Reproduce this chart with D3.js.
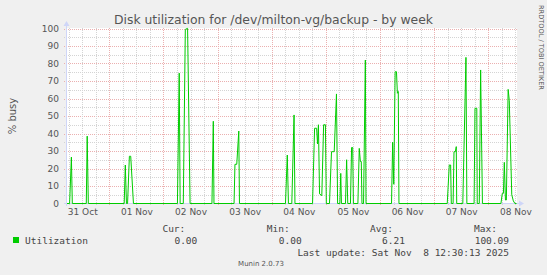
<!DOCTYPE html>
<meta charset="utf-8">
<style>
	body { margin: 0; background: #f0f0f0; }
	svg { display: block; }
	text { font-family: "DejaVu Sans", sans-serif; fill: #555; }
	.mono { font-family: "DejaVu Sans Mono", monospace; font-size: 9.5px; fill: #444; }
	.minor { stroke: #d4d4d4; stroke-dasharray: 1,1; }
	.major { stroke: #ebb0b0; stroke-dasharray: 1,1; }
</style>
<body>
<div id="chart"></div>
<script src="https://d3js.org/d3.v7.min.js"></script>
<script>
	// hours since 31 Oct 2025 00:00 and % busy
	const hours = [5.25, 6.4, 7.2, 7.6, 13.8, 14.2, 14.7,
		30.6, 31.1, 31.6, 32.1, 32.9, 33.5, 34.7,
		54.2, 55.0, 55.4, 56.8, 57.7, 58.7, 59.8,
		69.5, 70.1, 70.4,
		79.3, 79.7, 80.5, 81.4, 81.7,
		102.1, 102.9, 103.4, 104.9, 105.9, 106.3,
		114.1, 115.0, 115.9, 116.3, 116.7, 117.2, 118.2, 119.0, 119.8, 120.2,
		121.6, 122.5, 123.7, 124.7, 125.2,
		126.2, 126.6, 126.9,
		128.7, 129.2, 129.7,
		130.9, 131.4, 131.9, 132.2,
		134.2, 134.8, 135.3, 135.7, 136.0,
		136.7, 137.5, 137.8,
		149.1, 149.6, 150.1, 150.7, 151.3, 151.7, 152.1, 152.4,
		173.8, 174.7, 175.3, 175.6,
		176.4, 176.8, 177.4, 177.8, 178.0,
		180.7, 181.2, 182.1, 182.5,
		185.7, 186.1, 186.9, 187.1,
		188.0, 188.6, 189.4,
		197.6, 198.2, 198.7, 199.1, 199.6, 200.0, 200.8, 201.3, 202.4, 203.1, 203.8, 204.5];
	const busy = [0, 0, 26.5, 0, 0, 38.5, 0,
		0, 22, 0, 0, 27, 27, 0,
		0, 74.5, 0, 0, 99.5, 100.09, 0,
		0, 47, 0,
		0, 22.4, 22.4, 41.4, 0,
		0, 27.7, 0, 0, 50.6, 0,
		0, 43, 43, 34, 45, 5.5, 4.5, 45, 45, 0,
		0, 29.6, 29.6, 62.6, 0,
		0, 17.2, 0,
		0, 25, 0,
		0, 32, 32, 0,
		0, 31.5, 24, 24, 0,
		0, 82, 0,
		0, 35, 11, 75.3, 75.3, 63, 64, 0,
		0, 22, 22, 0,
		0, 29.6, 29.6, 32.5, 0,
		0, 29.6, 83.5, 0,
		0, 54.4, 54.4, 0,
		0, 76.3, 0,
		0, 5.8, 5.8, 23.5, 2, 2, 65.2, 59, 5, 1.5, 0, 0];

	const yTicks = [0, 10, 20, 30, 40, 50, 60, 70, 80, 90, 100];
	const legendHeads = ["Cur:", "Min:", "Avg:", "Max:"];
	const legendVals = ["0.00", "0.00", "6.21", "100.09"];
	const seriesName = "Utilization";
	const title = "Disk utilization for /dev/milton-vg/backup - by week";
	const lastUpdate = "Last update: Sat Nov  8 12:30:13 2025";

	const width = 547, height = 275;
	const BASE = Date.UTC(2025, 9, 31);
	const toDate = h => new Date(BASE + h * 3600e3);
	const data = hours.map((h, i) => ({ t: toDate(h), v: busy[i] }));

	const x = d3.scaleUtc().domain([toDate(5.25), toDate(204.5)]).range([67, 516.5]);
	const y = d3.scaleLinear().domain([0, 100]).range([203.5, 28.5]);
	const px = v => Math.round(v) + 0.5;

	const svg = d3.select("#chart").append("svg")
		.attr("width", width).attr("height", height);

	svg.append("rect").attr("width", width).attr("height", height).attr("fill", "#f0f0f0");
	svg.append("rect").attr("x", 67).attr("y", 28).attr("width", 450).attr("height", 176).attr("fill", "#fff");

	const [t0, t1] = x.domain();
	const minorT = d3.utcHour.every(6).range(t0, t1).filter(d => d.getUTCHours() !== 0);
	const majorT = d3.utcDay.range(t0, t1);
	const noonT = d3.utcDay.range(d3.utcDay.floor(t0), t1).map(d => d3.utcHour.offset(d, 12))
		.filter(d => d >= t0 && d <= t1);

	const grid = svg.append("g").attr("shape-rendering", "crispEdges");
	// horizontal grid: minor every 5, major every 10
	grid.selectAll(".hmin").data(d3.range(5, 100, 10)).join("line")
		.attr("class", "minor").attr("x1", 64).attr("x2", 518)
		.attr("y1", d => px(y(d))).attr("y2", d => px(y(d)));
	grid.selectAll(".hmaj").data(yTicks.slice(1)).join("line")
		.attr("class", "major").attr("x1", 64).attr("x2", 518)
		.attr("y1", d => px(y(d))).attr("y2", d => px(y(d)));
	// vertical grid
	grid.selectAll(".vmin").data(minorT).join("line")
		.attr("class", "minor").attr("y1", 28).attr("y2", 206)
		.attr("x1", d => px(x(d))).attr("x2", d => px(x(d)));
	grid.selectAll(".vmaj").data(majorT).join("line")
		.attr("class", "major").attr("y1", 28).attr("y2", 206)
		.attr("x1", d => px(x(d))).attr("x2", d => px(x(d)));

	// axes lines with arrows
	const axisCol = "#cfd6f8";
	svg.append("line").attr("x1", 66.5).attr("x2", 66.5).attr("y1", 206).attr("y2", 24)
		.attr("stroke", axisCol);
	svg.append("path").attr("d", "M63.5,26 L66.5,21 L69.5,26 Z").attr("fill", axisCol);
	svg.append("line").attr("x1", 64).attr("x2", 521).attr("y1", 203.5).attr("y2", 203.5)
		.attr("stroke", axisCol);
	svg.append("path").attr("d", "M519,200.5 L524,203.5 L519,206.5 Z").attr("fill", axisCol);

	// y labels
	svg.append("g").attr("transform", "translate(62,0)")
		.call(d3.axisLeft(y).tickValues(yTicks).tickSize(0).tickPadding(3))
		.call(g => g.select(".domain").remove())
		.call(g => g.selectAll("text").attr("font-size", 9).attr("font-family", "DejaVu Sans").attr("fill", "#555"));

	// x labels
	svg.append("g").attr("transform", "translate(0,207)")
		.call(d3.axisBottom(x).tickValues(noonT).tickFormat(d3.utcFormat("%d %b")).tickSize(0).tickPadding(2))
		.call(g => g.select(".domain").remove())
		.call(g => g.selectAll("text").attr("font-size", 9).attr("font-family", "DejaVu Sans").attr("fill", "#555"));

	// the series
	const line = d3.line().x(d => x(d.t)).y(d => y(d.v));
	svg.append("path").datum(data)
		.attr("fill", "none").attr("stroke", "#00cc00").attr("stroke-width", 1)
		.attr("d", line);

	// titles
	svg.append("text").attr("x", 273.5).attr("y", 23.5).attr("text-anchor", "middle")
		.attr("font-size", 12.4).attr("fill", "#555").text(title);
	svg.append("text").attr("transform", "translate(16,116) rotate(-90)")
		.attr("text-anchor", "middle").attr("font-size", 10).text("% busy");
	svg.append("text").attr("transform", "translate(539,5) rotate(90)")
		.attr("font-size", 6.6).attr("fill", "#c4c4c4").text("RRDTOOL / TOBI OETIKER");

	// legend
	const colEnds = [197.3, 301.7, 405, 509];
	svg.append("rect").attr("x", 13).attr("y", 237).attr("width", 6).attr("height", 6).attr("fill", "#00cc00");
	svg.append("text").attr("class", "mono").attr("x", 25).attr("y", 243.5).text(seriesName);
	svg.selectAll(".lh").data(legendHeads).join("text")
		.attr("class", "mono").attr("text-anchor", "end")
		.attr("x", (d, i) => colEnds[i] - 12).attr("y", 231.5).text(d => d);
	svg.selectAll(".lv").data(legendVals).join("text")
		.attr("class", "mono").attr("text-anchor", "end")
		.attr("x", (d, i) => colEnds[i]).attr("y", 243.5).text(d => d);
	svg.append("text").attr("class", "mono").attr("text-anchor", "end")
		.attr("x", 509).attr("y", 255.5).style("white-space", "pre").text(lastUpdate);
	svg.append("text").attr("x", 261).attr("y", 266).attr("text-anchor", "middle")
		.attr("font-size", 7).attr("fill", "#bdbdbd").text("Munin 2.0.73");
</script>
</body>
